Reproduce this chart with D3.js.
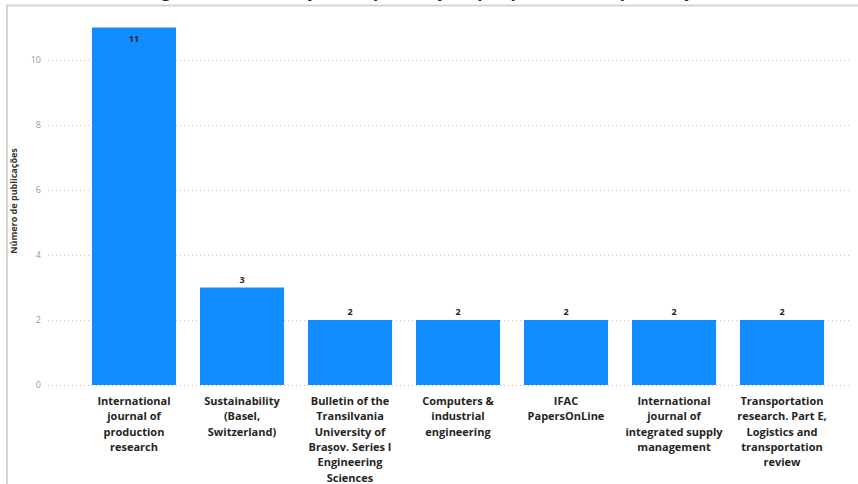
<!DOCTYPE html>
<html>
<head>
<meta charset="utf-8">
<script src="https://cdn.jsdelivr.net/npm/d3@7"></script>
<style>
  html, body { margin: 0; padding: 0; background: #fff; }
  svg { display: block; font-family: "Open Sans", "Noto Sans", sans-serif; }
</style>
</head>
<body>
<div id="chart"></div>
<script>
const titleText = "Figura 5 – Distribuição das publicações por periódico de publicação";
const categories = [
    "International journal of production research",
    "Sustainability (Basel, Switzerland)",
    "Bulletin of the Transilvania University of Brașov. Series I Engineering Sciences",
    "Computers & industrial engineering",
    "IFAC PapersOnLine",
    "International journal of integrated supply management",
    "Transportation research. Part E, Logistics and transportation review"
];
const publications = [11, 3, 2, 2, 2, 2, 2];
const yTicks = [0, 2, 4, 6, 8, 10];
const yLabel = "Número de publicações";

const width = 858;
const height = 484;
const margin = { top: 27, right: 22, bottom: 99, left: 80 };

const svg = d3.select("#chart")
    .append("svg")
    .attr("width", width)
    .attr("height", height);

// title is cut off at the top of the screenshot, only descenders show
svg.append("text")
    .attr("x", width / 2)
    .attr("y", -3)
    .attr("text-anchor", "middle")
    .attr("font-size", 17)
    .attr("font-weight", "bold")
    .attr("fill", "#222")
    .text(titleText);

svg.append("path")
    .attr("d", `M7,${height} V5.5 H${width}`)
    .attr("fill", "none")
    .attr("stroke", "#d4d4d4")
    .attr("stroke-width", 2);

const x = d3.scaleBand()
    .domain(categories)
    .range([margin.left, width - margin.right])
    .paddingInner(0.222)
    .paddingOuter(0.111);

const y = d3.scaleLinear()
    .domain([0, 10])
    .range([height - margin.bottom, 60]);

// grid
const grid = svg.append("g")
    .attr("transform", "translate(48,0)")
    .call(d3.axisLeft(y).tickValues(yTicks).tickSize(-(width - 8 - 48)).tickFormat(d3.format("d")));
grid.select(".domain").remove();
grid.selectAll(".tick line")
    .attr("stroke", "#c8c8c8")
    .attr("stroke-dasharray", "1,3");
grid.selectAll(".tick text")
    .attr("x", -7)
    .attr("fill", "#9a9a9a")
    .attr("font-size", 9)
    .attr("font-family", "Open Sans, sans-serif");

svg.append("text")
    .attr("transform", "rotate(-90)")
    .attr("x", -201)
    .attr("y", 17)
    .attr("text-anchor", "middle")
    .attr("font-size", 9)
    .attr("font-weight", "bold")
    .attr("fill", "#333")
    .text(yLabel);

svg.append("g")
    .selectAll("rect")
    .data(publications)
    .join("rect")
    .attr("x", (d, i) => x(categories[i]))
    .attr("y", d => y(d))
    .attr("width", x.bandwidth())
    .attr("height", d => y(0) - y(d))
    .attr("fill", "#118DFF");

svg.append("g")
    .selectAll("text")
    .data(publications)
    .join("text")
    .attr("x", (d, i) => x(categories[i]) + x.bandwidth() / 2)
    .attr("y", d => d > 8 ? y(d) + 14 : y(d) - 5)
    .attr("text-anchor", "middle")
    .attr("font-size", 9)
    .attr("font-weight", "bold")
    .attr("fill", "#252423")
    .text(d => d);

// category labels, wrapped by width
const xAxis = svg.append("g");
const maxW = 101;
categories.forEach(cat => {
    const cx = x(cat) + x.bandwidth() / 2;
    const t = xAxis.append("text")
        .attr("x", cx)
        .attr("y", y(0) + 20)
        .attr("text-anchor", "middle")
        .attr("font-size", 11)
        .attr("font-weight", "bold")
        .attr("fill", "#252423");
    const words = cat.split(" ");
    let line = [];
    let tspan = t.append("tspan").attr("x", cx).attr("dy", 0);
    words.forEach(w => {
        line.push(w);
        tspan.text(line.join(" "));
        if (tspan.node().getComputedTextLength() > maxW && line.length > 1) {
            line.pop();
            tspan.text(line.join(" "));
            line = [w];
            tspan = t.append("tspan")
                .attr("x", cx)
                .attr("dy", 15.3)
                .text(w);
        }
    });
});
</script>
</body>
</html>
